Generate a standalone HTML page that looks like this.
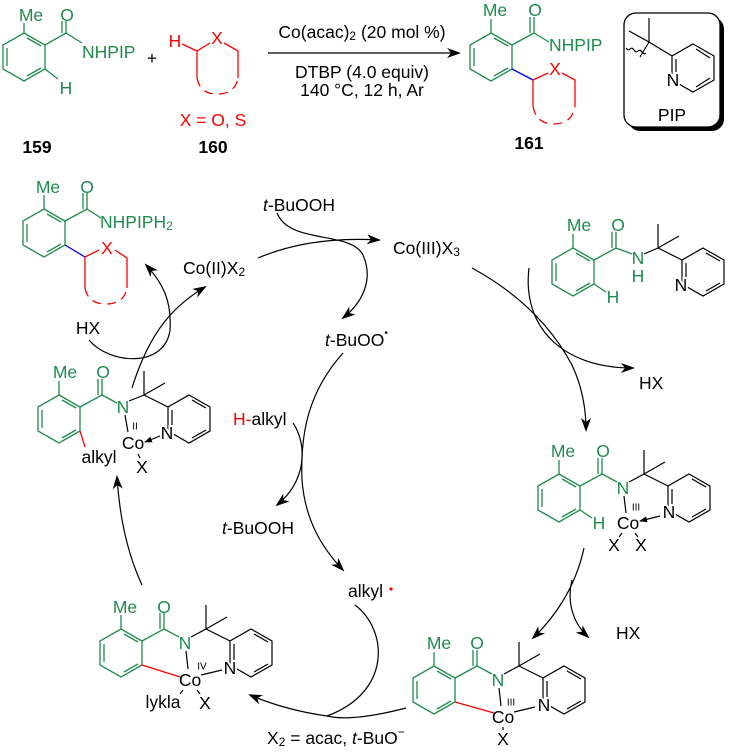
<!DOCTYPE html>
<html><head><meta charset="utf-8"><style>
html,body{margin:0;padding:0;background:#fff;}
svg{display:block;font-family:"Liberation Sans",sans-serif;}
.g{stroke:#1f8b4c;fill:none;stroke-width:1.3}
.k{stroke:#000;fill:none;stroke-width:1.2}
.r{stroke:#f00;fill:none;stroke-width:1.3}
.b{stroke:#00f;fill:none;stroke-width:1.3}
text{font-size:17.5px;dominant-baseline:central;text-anchor:middle}
.tg{fill:#1f8b4c}
.tr{fill:#f00}
.h{stroke:#fff;stroke-width:4;paint-order:stroke}
.s{font-size:10px}
.l{text-anchor:start}
.ar{stroke:#000;fill:none;stroke-width:1.2;marker-end:url(#ah)}
</style></head><body>
<svg width="732" height="753" viewBox="0 0 732 753">
<defs>
<marker id="ah" markerWidth="14" markerHeight="10" refX="12" refY="5" orient="auto" markerUnits="userSpaceOnUse">
<path d="M0,0 L14,5 L0,10 L4,5 Z" fill="#000"/>
</marker>
<marker id="sa" markerWidth="8" markerHeight="6" refX="7" refY="3" orient="auto" markerUnits="userSpaceOnUse">
<path d="M0,0 L8,3 L0,6 Z" fill="#000"/>
</marker>
</defs>

<!-- 159 -->
<g transform="translate(24,57)">
<polygon class="g" points="0,-24 21,-12 21,12 0,24 -21,12 -21,-12"/>
<line class="g" x1="-17" y1="-9" x2="-17" y2="9"/><line class="g" x1="3" y1="-19" x2="17" y2="-11"/><line class="g" x1="17" y1="11" x2="3" y2="19"/>
<line class="g" x1="0" y1="-24" x2="0" y2="-34"/>
<text class="tg" x="7" y="-42">Me</text>
<line class="g" x1="21" y1="-12" x2="42" y2="-24"/>
<line class="g" x1="42" y1="-24" x2="42" y2="-36"/><line class="g" x1="38" y1="-24" x2="38" y2="-36"/>
<text class="tg" x="43" y="-42">O</text>
<line class="g" x1="42" y1="-24" x2="58" y2="-14"/>
<text class="tg l" x="58" y="-5">NHPIP</text>
<line class="g" x1="21" y1="12" x2="34" y2="22"/>
<text class="tg" x="42" y="31">H</text>
</g>
<text x="152" y="58">+</text>
<!-- 160 -->
<text class="tr" x="175" y="41">H</text>
<text class="tr" x="217" y="38">X</text>
<path class="r" d="M182,44 L197,51 L210,43 M224,43 L238,51 L238,78 M197,51 L197,78"/>
<path class="r" d="M197,78 Q200,94 217,94 Q235,94 238,78" stroke-dasharray="9,6"/>
<text class="tr" x="213" y="120">X = O, S</text>
<text x="37" y="147" style="font-weight:bold">159</text>
<text x="213" y="147" style="font-weight:bold">160</text>

<!-- reaction arrow -->
<line x1="268" y1="53" x2="459" y2="53" class="ar"/>
<text x="362" y="32">Co(acac)<tspan dy="4" style="font-size:12px">2</tspan><tspan dy="-4"> (20 mol %)</tspan></text>
<text x="362" y="72">DTBP (4.0 equiv)</text>
<text x="362" y="90">140 °C, 12 h, Ar</text>

<!-- 161 -->
<g transform="translate(491,57)">
<polygon class="g" points="0,-24 21,-12 21,12 0,24 -21,12 -21,-12"/>
<line class="g" x1="-17" y1="-9" x2="-17" y2="9"/><line class="g" x1="3" y1="-19" x2="17" y2="-11"/><line class="g" x1="17" y1="11" x2="3" y2="19"/>
<line class="g" x1="0" y1="-24" x2="0" y2="-38"/>
<text class="tg" x="4" y="-47">Me</text>
<line class="g" x1="21" y1="-12" x2="43" y2="-24"/>
<line class="g" x1="43" y1="-24" x2="43" y2="-40"/><line class="g" x1="39" y1="-24" x2="39" y2="-40"/>
<text class="tg" x="44" y="-47">O</text>
<line class="g" x1="43" y1="-24" x2="58" y2="-15"/>
<text class="tg l" x="58" y="-12">NHPIP</text>
</g>
<path class="b" d="M512,69 L533,80"/>
<text class="tr" x="555" y="69">X</text>
<path class="r" d="M533,80 L548,73 M562,73 L575,80 L575,106 M533,80 L533,106"/>
<path class="r" d="M533,106 Q536,124 554,124 Q572,124 575,106" stroke-dasharray="9,6"/>
<text x="529" y="143" style="font-weight:bold">161</text>

<!-- PIP box -->
<rect x="628" y="17" width="96" height="114" rx="12" fill="#000"/>
<rect x="624" y="13" width="96" height="114" rx="12" fill="#fff" stroke="#000" stroke-width="1.3"/>
<path class="k" d="M649,42 L649,18 M649,42 L629,31 M649,42 L672,56 M649,42 L640,57"/>
<path class="k" d="M626,48 q2,3 4,1 q2,-2 4,1 q2,3 4,1 q2,-2 4,1 q2,3 4,1" stroke-width="1"/>
<polygon class="k" points="693,44 714,56 714,80 693,92 672,80 672,56"/>
<line class="k" x1="676" y1="59" x2="676" y2="77"/><line class="k" x1="696" y1="49" x2="710" y2="58"/><line class="k" x1="710" y1="78" x2="696" y2="87"/>
<text class="h" x="673" y="80">N</text>
<text x="672" y="115">PIP</text>

<!-- top-left product -->
<g transform="translate(44,233)">
<polygon class="g" points="0,-24 21,-12 21,12 0,24 -21,12 -21,-12"/>
<line class="g" x1="-17" y1="-9" x2="-17" y2="9"/><line class="g" x1="3" y1="-19" x2="17" y2="-11"/><line class="g" x1="17" y1="11" x2="3" y2="19"/>
<line class="g" x1="0" y1="-24" x2="0" y2="-38"/>
<text class="tg" x="4" y="-46">Me</text>
<line class="g" x1="21" y1="-12" x2="43" y2="-24"/>
<line class="g" x1="43" y1="-24" x2="43" y2="-40"/><line class="g" x1="39" y1="-24" x2="39" y2="-40"/>
<text class="tg" x="43" y="-46">O</text>
<line class="g" x1="43" y1="-24" x2="57" y2="-15"/>
<text class="tg l" x="56" y="-11">NHPIPH<tspan dy="4" style="font-size:12px">2</tspan></text>
</g>
<path class="b" d="M65,245 L85,257"/>
<text class="tr" x="107" y="248">X</text>
<path class="r" d="M85,257 L99,250 M115,250 L127,258 L127,288 M85,257 L85,288"/>
<path class="r" d="M85,288 Q88,304 106,304 Q124,304 127,288" stroke-dasharray="9,6"/>

<!-- cycle labels -->
<text class="l" x="263" y="205"><tspan font-style="italic">t</tspan>-BuOOH</text>
<text class="l" x="183" y="268">Co(II)X<tspan dy="4" style="font-size:12px">2</tspan></text>
<text class="l" x="393" y="248">Co(III)X<tspan dy="4" style="font-size:12px">3</tspan></text>
<text x="88" y="328">HX</text>
<text class="l" x="325" y="340"><tspan font-style="italic">t</tspan>-BuOO<tspan dy="-7" style="font-size:10px">•</tspan></text>
<text class="l" x="233" y="419"><tspan class="tr">H-</tspan>alkyl</text>
<text class="l" x="639" y="383">HX</text>
<text class="l" x="222" y="528"><tspan font-style="italic">t</tspan>-BuOOH</text>
<text class="l" x="348" y="591">alkyl</text>
<circle cx="391" cy="589" r="1.6" fill="#f00"/>
<text class="l" x="616" y="633">HX</text>
<text class="l" x="267" y="738">X<tspan dy="4" style="font-size:12px">2</tspan><tspan dy="-4"> = acac, </tspan><tspan font-style="italic">t</tspan>-BuO<tspan dy="-6" style="font-size:12px">−</tspan></text>

<!-- cycle arrows -->
<path class="ar" d="M258,258 Q310,236 379,240"/>
<path class="ar" d="M277,213 C290,245 350,230 363,255 C374,280 362,303 343,318"/>
<path class="ar" d="M472,268 Q540,305 572,365 Q586,395 586,430"/>
<path class="ar" d="M529,268 C522,325 560,368 633,368"/>
<path class="ar" d="M584,548 C575,590 552,620 533,638"/>
<path class="ar" d="M572,580 C566,605 575,625 588,637"/>
<path class="ar" d="M406,708 Q352,722 327,716 Q285,710 250,695"/>
<path class="k" d="M355,605 C388,630 392,692 327,716"/>
<path class="ar" d="M142,585 Q121,540 117,477"/>
<path class="ar" d="M132,388 C150,330 175,305 205,287"/>
<path class="ar" d="M89,340 C110,365 165,368 170,330 C172,300 162,282 146,265"/>
<path class="ar" d="M343,353 C310,390 300,430 302,480 C305,520 322,548 343,570"/>
<path class="ar" d="M293,423 C308,445 306,482 277,505"/>

<!-- top-right substrate -->
<g transform="translate(573,272)">
<polygon class="g" points="0,-24 21,-12 21,12 0,24 -21,12 -21,-12"/>
<line class="g" x1="-17" y1="-9" x2="-17" y2="9"/><line class="g" x1="3" y1="-19" x2="17" y2="-11"/><line class="g" x1="17" y1="11" x2="3" y2="19"/>
<line class="g" x1="0" y1="-24" x2="0" y2="-38"/>
<text class="tg" x="6" y="-47">Me</text>
<line class="g" x1="21" y1="-12" x2="43" y2="-24"/>
<line class="g" x1="43" y1="-24" x2="43" y2="-40"/><line class="g" x1="39" y1="-24" x2="39" y2="-40"/>
<text class="tg" x="45" y="-47">O</text>
<line class="g" x1="43" y1="-24" x2="59" y2="-18"/>
<text class="tg" x="65" y="-14">N</text>
<text class="tg" x="65" y="4">H</text>
<line class="g" x1="21" y1="12" x2="33" y2="20"/>
<text class="tg" x="40" y="25">H</text>
<path class="k" d="M71,-18 L85,-24 L85,-48 M85,-24 L106,-36 M85,-24 L109,-12"/>
<polygon class="k" points="130,-24 151,-12 151,12 130,24 109,12 109,-12"/>
<line class="k" x1="113" y1="-9" x2="113" y2="8"/><line class="k" x1="133" y1="-19" x2="147" y2="-11"/><line class="k" x1="147" y1="11" x2="133" y2="19"/>
<text class="h" x="108" y="13">N</text>
</g>

<!-- middle-right Co(III)-H -->
<g transform="translate(559,498)">
<polygon class="g" points="0,-24 21,-12 21,12 0,24 -21,12 -21,-12"/>
<line class="g" x1="-17" y1="-9" x2="-17" y2="9"/><line class="g" x1="3" y1="-19" x2="17" y2="-11"/><line class="g" x1="17" y1="11" x2="3" y2="19"/>
<line class="g" x1="0" y1="-24" x2="0" y2="-38"/>
<text class="tg" x="4" y="-47">Me</text>
<line class="g" x1="21" y1="-12" x2="43" y2="-24"/>
<line class="g" x1="43" y1="-24" x2="43" y2="-40"/><line class="g" x1="39" y1="-24" x2="39" y2="-40"/>
<text class="tg" x="44" y="-47">O</text>
<line class="g" x1="43" y1="-24" x2="58" y2="-16"/>
<text class="tg" x="64" y="-10">N</text>
<line class="g" x1="21" y1="12" x2="33" y2="20"/>
<text class="tg" x="40" y="25">H</text>
<path class="k" d="M70,-16 L85,-24 L85,-48 M85,-24 L106,-36 M85,-24 L109,-12"/>
<polygon class="k" points="130,-24 151,-12 151,12 130,24 109,12 109,-12"/>
<line class="k" x1="113" y1="-9" x2="113" y2="8"/><line class="k" x1="133" y1="-19" x2="147" y2="-11"/><line class="k" x1="147" y1="11" x2="133" y2="19"/>
<text class="h" x="110" y="14">N</text>
<line class="k" x1="65" y1="-2" x2="67" y2="15"/>
<line class="k" x1="101" y1="18" x2="81" y2="23" style="marker-end:url(#sa)"/>
<text x="69" y="25">Co</text>
<text class="s" x="77" y="10">III</text>
<path class="k" d="M63,35 L60,39 M76,35 L79,39"/>
<text x="55" y="47">X</text><text x="82" y="47">X</text>
</g>

<!-- bottom-right Co(III) -->
<g transform="translate(434,690)">
<polygon class="g" points="0,-24 21,-12 21,12 0,24 -21,12 -21,-12"/>
<line class="g" x1="-17" y1="-9" x2="-17" y2="9"/><line class="g" x1="3" y1="-19" x2="17" y2="-11"/><line class="g" x1="17" y1="11" x2="3" y2="19"/>
<line class="g" x1="0" y1="-24" x2="0" y2="-38"/>
<text class="tg" x="5" y="-47">Me</text>
<line class="g" x1="21" y1="-12" x2="43" y2="-24"/>
<line class="g" x1="43" y1="-24" x2="43" y2="-40"/><line class="g" x1="39" y1="-24" x2="39" y2="-40"/>
<text class="tg" x="43" y="-47">O</text>
<line class="g" x1="43" y1="-24" x2="58" y2="-16"/>
<text class="tg" x="64" y="-10">N</text>
<path class="k" d="M70,-16 L85,-24 L85,-48 M85,-24 L106,-36 M85,-24 L109,-12"/>
<polygon class="k" points="130,-24 151,-12 151,12 130,24 109,12 109,-12"/>
<line class="k" x1="113" y1="-9" x2="113" y2="8"/><line class="k" x1="133" y1="-19" x2="147" y2="-11"/><line class="k" x1="147" y1="11" x2="133" y2="19"/>
<text class="h" x="110" y="15">N</text>
<line class="r" x1="21" y1="12" x2="60" y2="23"/>
<line class="k" x1="65" y1="-2" x2="67" y2="16"/>
<line class="k" x1="80" y1="22" x2="101" y2="17"/>
<text x="69" y="27">Co</text>
<text class="s" x="77" y="13">III</text>
<line class="k" x1="69" y1="37" x2="69" y2="40"/>
<text x="69" y="49">X</text>
</g>

<!-- bottom-left Co(IV) -->
<g transform="translate(121,653)">
<polygon class="g" points="0,-24 21,-12 21,12 0,24 -21,12 -21,-12"/>
<line class="g" x1="-17" y1="-9" x2="-17" y2="9"/><line class="g" x1="3" y1="-19" x2="17" y2="-11"/><line class="g" x1="17" y1="11" x2="3" y2="19"/>
<line class="g" x1="0" y1="-24" x2="0" y2="-38"/>
<text class="tg" x="4" y="-46">Me</text>
<line class="g" x1="21" y1="-12" x2="43" y2="-24"/>
<line class="g" x1="43" y1="-24" x2="43" y2="-40"/><line class="g" x1="39" y1="-24" x2="39" y2="-40"/>
<text class="tg" x="43" y="-46">O</text>
<line class="g" x1="43" y1="-24" x2="58" y2="-16"/>
<text class="tg" x="64" y="-10">N</text>
<path class="k" d="M70,-16 L85,-24 L85,-48 M85,-24 L106,-36 M85,-24 L109,-12"/>
<polygon class="k" points="130,-24 151,-12 151,12 130,24 109,12 109,-12"/>
<line class="k" x1="113" y1="-9" x2="113" y2="8"/><line class="k" x1="133" y1="-19" x2="147" y2="-11"/><line class="k" x1="147" y1="11" x2="133" y2="19"/>
<text class="h" x="109" y="15">N</text>
<line class="r" x1="21" y1="12" x2="59" y2="24"/>
<line class="k" x1="65" y1="-2" x2="67" y2="16"/>
<line class="k" x1="80" y1="22" x2="101" y2="17"/>
<text x="69" y="27">Co</text>
<text class="s" x="81" y="14">IV</text>
<path class="k" d="M62,37 L59,41 M76,37 L79,41"/>
<text x="42" y="49">lykla</text>
<text x="84" y="50">X</text>
</g>

<!-- left Co(II) -->
<g transform="translate(59,419)">
<polygon class="g" points="0,-24 21,-12 21,12 0,24 -21,12 -21,-12"/>
<line class="g" x1="-17" y1="-9" x2="-17" y2="9"/><line class="g" x1="3" y1="-19" x2="17" y2="-11"/><line class="g" x1="17" y1="11" x2="3" y2="19"/>
<line class="g" x1="0" y1="-24" x2="0" y2="-38"/>
<text class="tg" x="6" y="-47">Me</text>
<line class="g" x1="21" y1="-12" x2="43" y2="-24"/>
<line class="g" x1="43" y1="-24" x2="43" y2="-40"/><line class="g" x1="39" y1="-24" x2="39" y2="-40"/>
<text class="tg" x="44" y="-47">O</text>
<line class="g" x1="43" y1="-24" x2="58" y2="-16"/>
<text class="tg" x="64" y="-12">N</text>
<path class="k" d="M70,-18 L85,-24 L85,-48 M85,-24 L106,-36 M85,-24 L109,-12"/>
<polygon class="k" points="130,-24 151,-12 151,12 130,24 109,12 109,-12"/>
<line class="k" x1="113" y1="-9" x2="113" y2="8"/><line class="k" x1="133" y1="-19" x2="147" y2="-11"/><line class="k" x1="147" y1="11" x2="133" y2="19"/>
<text class="h" x="108" y="14">N</text>
<line class="r" x1="21" y1="12" x2="26" y2="28"/>
<text x="40" y="38">alkyl</text>
<line class="k" x1="66" y1="-4" x2="69" y2="13"/>
<line class="k" x1="101" y1="17" x2="86" y2="23" style="marker-end:url(#sa)"/>
<text x="74" y="24">Co</text>
<text class="s" x="76" y="8">II</text>
<line class="k" x1="79" y1="35" x2="81" y2="39"/>
<text x="83" y="48">X</text>
</g>
</svg>
</body></html>
